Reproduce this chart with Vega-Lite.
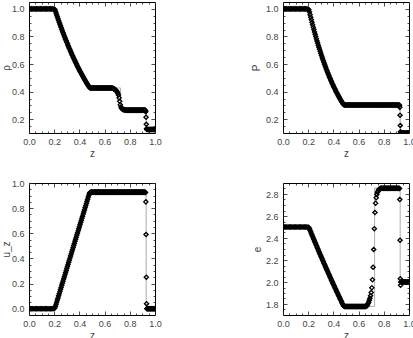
{
"$schema": "https://vega.github.io/schema/vega-lite/v6.json",
"padding": {"left": 0, "top": 1, "right": 5, "bottom": 2},
"datasets": {
"num": [
{"z":0,"rho":1,"p":1,"u":0,"e":2.5},{"z":0.01,"rho":1,"p":1,"u":0,"e":2.5},{"z":0.02,"rho":1,"p":1,"u":0,"e":2.5},{"z":0.03,"rho":1,"p":1,"u":0,"e":2.5},{"z":0.04,"rho":1,"p":1,"u":0,"e":2.5},{"z":0.05,"rho":1,"p":1,"u":0,"e":2.5},{"z":0.06,"rho":1,"p":1,"u":0,"e":2.5},{"z":0.07,"rho":1,"p":1,"u":0,"e":2.5},{"z":0.08,"rho":1,"p":1,"u":0,"e":2.5},{"z":0.09,"rho":1,"p":1,"u":0,"e":2.5},
{"z":0.1,"rho":1,"p":1,"u":0,"e":2.5},{"z":0.11,"rho":1,"p":1,"u":0,"e":2.5},{"z":0.12,"rho":1,"p":1,"u":0,"e":2.5},{"z":0.13,"rho":1,"p":1,"u":0,"e":2.5},{"z":0.14,"rho":1,"p":1,"u":0,"e":2.5},{"z":0.15,"rho":1,"p":1,"u":0,"e":2.5},{"z":0.16,"rho":1,"p":1,"u":0,"e":2.5},{"z":0.17,"rho":1,"p":1,"u":0,"e":2.5},{"z":0.18,"rho":1,"p":1,"u":0,"e":2.5},{"z":0.19,"rho":1,"p":1,"u":0,"e":2.5},
{"z":0.2,"rho":0.998,"p":0.997,"u":0.003,"e":2.498},
{"z":0.205,"rho":0.995,"p":0.993,"u":0.006,"e":2.495},
{"z":0.21,"rho":0.9837,"p":0.9773,"u":0.0193,"e":2.4837},
{"z":0.215,"rho":0.97,"p":0.9583,"u":0.036,"e":2.4697},
{"z":0.22,"rho":0.9563,"p":0.9393,"u":0.0526,"e":2.4557},
{"z":0.225,"rho":0.9428,"p":0.9209,"u":0.0693,"e":2.4417},
{"z":0.23,"rho":0.9294,"p":0.9025,"u":0.086,"e":2.4278},
{"z":0.235,"rho":0.9162,"p":0.8848,"u":0.1026,"e":2.414},
{"z":0.24,"rho":0.9031,"p":0.867,"u":0.1193,"e":2.4001},
{"z":0.245,"rho":0.8903,"p":0.8499,"u":0.136,"e":2.3864},
{"z":0.25,"rho":0.8774,"p":0.8327,"u":0.1526,"e":2.3726},
{"z":0.255,"rho":0.8649,"p":0.8162,"u":0.1693,"e":2.3589},
{"z":0.26,"rho":0.8524,"p":0.7996,"u":0.186,"e":2.3453},
{"z":0.265,"rho":0.8401,"p":0.7836,"u":0.2026,"e":2.3316},
{"z":0.27,"rho":0.8279,"p":0.7676,"u":0.2193,"e":2.318},
{"z":0.275,"rho":0.8159,"p":0.7522,"u":0.236,"e":2.3045},
{"z":0.28,"rho":0.8039,"p":0.7367,"u":0.2526,"e":2.291},
{"z":0.285,"rho":0.7922,"p":0.7218,"u":0.2693,"e":2.2776},
{"z":0.29,"rho":0.7805,"p":0.7069,"u":0.286,"e":2.2641},
{"z":0.295,"rho":0.7691,"p":0.6925,"u":0.3026,"e":2.2507},
{"z":0.3,"rho":0.7577,"p":0.6781,"u":0.3193,"e":2.2374},
{"z":0.305,"rho":0.7466,"p":0.6642,"u":0.336,"e":2.2241},
{"z":0.31,"rho":0.7354,"p":0.6503,"u":0.3526,"e":2.2108},
{"z":0.315,"rho":0.7245,"p":0.6369,"u":0.3693,"e":2.1976},
{"z":0.32,"rho":0.7136,"p":0.6235,"u":0.386,"e":2.1844},
{"z":0.325,"rho":0.703,"p":0.6106,"u":0.4026,"e":2.1713},
{"z":0.33,"rho":0.6924,"p":0.5977,"u":0.4193,"e":2.1581},
{"z":0.335,"rho":0.682,"p":0.5853,"u":0.436,"e":2.1451},
{"z":0.34,"rho":0.6716,"p":0.5728,"u":0.4526,"e":2.132},
{"z":0.345,"rho":0.6615,"p":0.5608,"u":0.4693,"e":2.1191},
{"z":0.35,"rho":0.6514,"p":0.5488,"u":0.486,"e":2.1061},
{"z":0.355,"rho":0.6415,"p":0.5372,"u":0.5026,"e":2.0932},
{"z":0.36,"rho":0.6317,"p":0.5256,"u":0.5193,"e":2.0803},
{"z":0.365,"rho":0.622,"p":0.5145,"u":0.536,"e":2.0675},
{"z":0.37,"rho":0.6124,"p":0.5033,"u":0.5526,"e":2.0547},
{"z":0.375,"rho":0.603,"p":0.4926,"u":0.5693,"e":2.042},
{"z":0.38,"rho":0.5936,"p":0.4818,"u":0.586,"e":2.0292},
{"z":0.385,"rho":0.5844,"p":0.4715,"u":0.6026,"e":2.0166},
{"z":0.39,"rho":0.5753,"p":0.4611,"u":0.6193,"e":2.0039},
{"z":0.395,"rho":0.5663,"p":0.4511,"u":0.636,"e":1.9914},
{"z":0.4,"rho":0.5574,"p":0.4412,"u":0.6526,"e":1.9788},
{"z":0.405,"rho":0.5487,"p":0.4316,"u":0.6693,"e":1.9663},
{"z":0.41,"rho":0.54,"p":0.422,"u":0.686,"e":1.9538},
{"z":0.415,"rho":0.5315,"p":0.4128,"u":0.7026,"e":1.9414},
{"z":0.42,"rho":0.523,"p":0.4035,"u":0.7193,"e":1.929},
{"z":0.425,"rho":0.5147,"p":0.3946,"u":0.736,"e":1.9167},
{"z":0.43,"rho":0.5064,"p":0.3857,"u":0.7526,"e":1.9043},
{"z":0.435,"rho":0.4983,"p":0.3772,"u":0.7693,"e":1.8921},
{"z":0.44,"rho":0.4903,"p":0.3686,"u":0.786,"e":1.8798},
{"z":0.445,"rho":0.4824,"p":0.3604,"u":0.8026,"e":1.8676},
{"z":0.45,"rho":0.4746,"p":0.3522,"u":0.8193,"e":1.8555},
{"z":0.455,"rho":0.4669,"p":0.3443,"u":0.836,"e":1.8434},
{"z":0.46,"rho":0.4592,"p":0.3364,"u":0.8526,"e":1.8313},
{"z":0.465,"rho":0.4518,"p":0.3288,"u":0.8693,"e":1.8193},
{"z":0.47,"rho":0.4443,"p":0.3212,"u":0.886,"e":1.8072},
{"z":0.475,"rho":0.4371,"p":0.3139,"u":0.9026,"e":1.7953},
{"z":0.48,"rho":0.43,"p":0.3068,"u":0.918,"e":1.7838},
{"z":0.485,"rho":0.4274,"p":0.3043,"u":0.9248,"e":1.78},
{"z":0.49,"rho":0.4266,"p":0.3035,"u":0.9266,"e":1.7785},
{"z":0.495,"rho":0.4264,"p":0.3032,"u":0.9272,"e":1.778},
{"z":0.5,"rho":0.4263,"p":0.3031,"u":0.9274,"e":1.778},{"z":0.505,"rho":0.4263,"p":0.3031,"u":0.9274,"e":1.778},{"z":0.51,"rho":0.4263,"p":0.3031,"u":0.9274,"e":1.778},{"z":0.515,"rho":0.4263,"p":0.3031,"u":0.9274,"e":1.778},{"z":0.52,"rho":0.4263,"p":0.3031,"u":0.9274,"e":1.778},{"z":0.525,"rho":0.4263,"p":0.3031,"u":0.9274,"e":1.778},{"z":0.53,"rho":0.4263,"p":0.3031,"u":0.9274,"e":1.778},{"z":0.535,"rho":0.4263,"p":0.3031,"u":0.9274,"e":1.778},{"z":0.54,"rho":0.4263,"p":0.3031,"u":0.9274,"e":1.778},{"z":0.545,"rho":0.4263,"p":0.3031,"u":0.9274,"e":1.778},{"z":0.55,"rho":0.4263,"p":0.3031,"u":0.9274,"e":1.778},{"z":0.555,"rho":0.4263,"p":0.3031,"u":0.9274,"e":1.778},{"z":0.56,"rho":0.4263,"p":0.3031,"u":0.9274,"e":1.778},{"z":0.565,"rho":0.4263,"p":0.3031,"u":0.9274,"e":1.778},{"z":0.57,"rho":0.4263,"p":0.3031,"u":0.9274,"e":1.778},{"z":0.575,"rho":0.4263,"p":0.3031,"u":0.9274,"e":1.778},
{"z":0.58,"rho":0.4263,"p":0.3031,"u":0.9274,"e":1.778},{"z":0.585,"rho":0.4263,"p":0.3031,"u":0.9274,"e":1.778},{"z":0.59,"rho":0.4263,"p":0.3031,"u":0.9274,"e":1.778},{"z":0.595,"rho":0.4263,"p":0.3031,"u":0.9274,"e":1.778},{"z":0.6,"rho":0.4263,"p":0.3031,"u":0.9274,"e":1.778},{"z":0.605,"rho":0.4263,"p":0.3031,"u":0.9274,"e":1.778},{"z":0.61,"rho":0.4263,"p":0.3031,"u":0.9274,"e":1.778},{"z":0.615,"rho":0.4263,"p":0.3031,"u":0.9274,"e":1.778},{"z":0.62,"rho":0.4263,"p":0.3031,"u":0.9274,"e":1.778},{"z":0.625,"rho":0.4263,"p":0.3031,"u":0.9274,"e":1.778},{"z":0.63,"rho":0.4263,"p":0.3031,"u":0.9274,"e":1.778},{"z":0.635,"rho":0.4263,"p":0.3031,"u":0.9274,"e":1.778},{"z":0.64,"rho":0.4263,"p":0.3031,"u":0.9274,"e":1.778},{"z":0.645,"rho":0.4263,"p":0.3031,"u":0.9274,"e":1.778},{"z":0.65,"rho":0.4263,"p":0.3031,"u":0.9274,"e":1.778},{"z":0.655,"rho":0.4262,"p":0.3031,"u":0.9274,"e":1.7783},
{"z":0.66,"rho":0.426,"p":0.3031,"u":0.9274,"e":1.7788},
{"z":0.665,"rho":0.425,"p":0.3031,"u":0.9274,"e":1.7829},
{"z":0.67,"rho":0.423,"p":0.3031,"u":0.9274,"e":1.7914},
{"z":0.675,"rho":0.42,"p":0.3031,"u":0.9274,"e":1.8042},
{"z":0.68,"rho":0.417,"p":0.3031,"u":0.9274,"e":1.8171},
{"z":0.685,"rho":0.413,"p":0.3031,"u":0.9274,"e":1.8347},
{"z":0.69,"rho":0.409,"p":0.3031,"u":0.9274,"e":1.8527},
{"z":0.695,"rho":0.404,"p":0.3031,"u":0.9274,"e":1.8756},
{"z":0.7,"rho":0.398,"p":0.3031,"u":0.9274,"e":1.9039},
{"z":0.705,"rho":0.389,"p":0.3031,"u":0.9274,"e":1.9479},
{"z":0.71,"rho":0.375,"p":0.3031,"u":0.9274,"e":2.0207},
{"z":0.715,"rho":0.355,"p":0.3031,"u":0.9274,"e":2.1345},
{"z":0.72,"rho":0.33,"p":0.3031,"u":0.9274,"e":2.2962},
{"z":0.725,"rho":0.305,"p":0.3031,"u":0.9274,"e":2.4844},
{"z":0.73,"rho":0.288,"p":0.3031,"u":0.9274,"e":2.6311},
{"z":0.735,"rho":0.279,"p":0.3031,"u":0.9274,"e":2.7159},
{"z":0.74,"rho":0.274,"p":0.3031,"u":0.9274,"e":2.7655},
{"z":0.745,"rho":0.271,"p":0.3031,"u":0.9274,"e":2.7961},
{"z":0.75,"rho":0.269,"p":0.3031,"u":0.9274,"e":2.8169},
{"z":0.755,"rho":0.268,"p":0.3031,"u":0.9274,"e":2.8274},
{"z":0.76,"rho":0.267,"p":0.3031,"u":0.9274,"e":2.838},
{"z":0.765,"rho":0.2663,"p":0.3031,"u":0.9274,"e":2.8455},
{"z":0.77,"rho":0.266,"p":0.3031,"u":0.9274,"e":2.8487},
{"z":0.775,"rho":0.2658,"p":0.3031,"u":0.9274,"e":2.851},
{"z":0.78,"rho":0.2656,"p":0.3031,"u":0.9274,"e":2.853},{"z":0.785,"rho":0.2656,"p":0.3031,"u":0.9274,"e":2.853},{"z":0.79,"rho":0.2656,"p":0.3031,"u":0.9274,"e":2.853},{"z":0.795,"rho":0.2656,"p":0.3031,"u":0.9274,"e":2.853},{"z":0.8,"rho":0.2656,"p":0.3031,"u":0.9274,"e":2.853},{"z":0.805,"rho":0.2656,"p":0.3031,"u":0.9274,"e":2.853},{"z":0.81,"rho":0.2656,"p":0.3031,"u":0.9274,"e":2.853},{"z":0.815,"rho":0.2656,"p":0.3031,"u":0.9274,"e":2.853},{"z":0.82,"rho":0.2656,"p":0.3031,"u":0.9274,"e":2.853},{"z":0.825,"rho":0.2656,"p":0.3031,"u":0.9274,"e":2.853},{"z":0.83,"rho":0.2656,"p":0.3031,"u":0.9274,"e":2.853},{"z":0.835,"rho":0.2656,"p":0.3031,"u":0.9274,"e":2.853},{"z":0.84,"rho":0.2656,"p":0.3031,"u":0.9274,"e":2.853},{"z":0.845,"rho":0.2656,"p":0.3031,"u":0.9274,"e":2.853},{"z":0.85,"rho":0.2656,"p":0.3031,"u":0.9274,"e":2.853},
{"z":0.855,"rho":0.2656,"p":0.3031,"u":0.9274,"e":2.853},{"z":0.86,"rho":0.2656,"p":0.3031,"u":0.9274,"e":2.853},{"z":0.865,"rho":0.2656,"p":0.3031,"u":0.9274,"e":2.853},{"z":0.87,"rho":0.2656,"p":0.3031,"u":0.9274,"e":2.853},{"z":0.875,"rho":0.2656,"p":0.3031,"u":0.9274,"e":2.853},{"z":0.88,"rho":0.2656,"p":0.3031,"u":0.9274,"e":2.853},{"z":0.885,"rho":0.2656,"p":0.3031,"u":0.9274,"e":2.853},{"z":0.89,"rho":0.2656,"p":0.3031,"u":0.9274,"e":2.853},{"z":0.895,"rho":0.2656,"p":0.3031,"u":0.9274,"e":2.853},{"z":0.9,"rho":0.2656,"p":0.3031,"u":0.9274,"e":2.853},{"z":0.905,"rho":0.2656,"p":0.3031,"u":0.9274,"e":2.853},{"z":0.91,"rho":0.2656,"p":0.3031,"u":0.9274,"e":2.853},{"z":0.915,"rho":0.2656,"p":0.3031,"u":0.9274,"e":2.853},{"z":0.92,"rho":0.2656,"p":0.3031,"u":0.9274,"e":2.853},
{"z":0.925,"rho":0.264,"p":0.301,"u":0.925,"e":2.85},
{"z":0.927,"rho":0.254,"p":0.286,"u":0.85,"e":2.75},
{"z":0.929,"rho":0.2144,"p":0.229,"u":0.59,"e":2.38},
{"z":0.931,"rho":0.163,"p":0.155,"u":0.25,"e":2.03},
{"z":0.933,"rho":0.131,"p":0.109,"u":0.04,"e":1.97},
{"z":0.935,"rho":0.125,"p":0.1,"u":0,"e":2.0},
{"z":0.94,"rho":0.125,"p":0.1,"u":0,"e":2.0},{"z":0.945,"rho":0.125,"p":0.1,"u":0,"e":2.0},{"z":0.95,"rho":0.125,"p":0.1,"u":0,"e":2.0},{"z":0.955,"rho":0.125,"p":0.1,"u":0,"e":2.0},{"z":0.96,"rho":0.125,"p":0.1,"u":0,"e":2.0},{"z":0.965,"rho":0.125,"p":0.1,"u":0,"e":2.0},{"z":0.97,"rho":0.125,"p":0.1,"u":0,"e":2.0},{"z":0.975,"rho":0.125,"p":0.1,"u":0,"e":2.0},{"z":0.98,"rho":0.125,"p":0.1,"u":0,"e":2.0},{"z":0.985,"rho":0.125,"p":0.1,"u":0,"e":2.0},{"z":0.99,"rho":0.125,"p":0.1,"u":0,"e":2.0},{"z":0.995,"rho":0.125,"p":0.1,"u":0,"e":2.0},{"z":1.0,"rho":0.125,"p":0.1,"u":0,"e":2.0}
],
"exact": [
{"i":0,"z":0,"rho":1,"p":1,"u":0,"e":2.5},
{"i":1,"z":0.2042,"rho":1,"p":1,"u":0,"e":2.5},
{"i":2,"z":0.25,"rho":0.8774,"p":0.8327,"u":0.1526,"e":2.3726},
{"i":3,"z":0.3,"rho":0.7577,"p":0.6781,"u":0.3193,"e":2.2374},
{"i":4,"z":0.35,"rho":0.6514,"p":0.5488,"u":0.486,"e":2.1061},
{"i":5,"z":0.4,"rho":0.5574,"p":0.4412,"u":0.6526,"e":1.9788},
{"i":6,"z":0.45,"rho":0.4746,"p":0.3522,"u":0.8193,"e":1.8555},
{"i":7,"z":0.4824,"rho":0.4263,"p":0.3031,"u":0.9274,"e":1.778},
{"i":8,"z":0.727,"rho":0.4263,"p":0.3031,"u":0.9274,"e":1.778},
{"i":9,"z":0.727,"rho":0.2656,"p":0.3031,"u":0.9274,"e":2.853},
{"i":10,"z":0.93,"rho":0.2656,"p":0.3031,"u":0.9274,"e":2.853},
{"i":11,"z":0.93,"rho":0.125,"p":0.1,"u":0,"e":2.0},
{"i":12,"z":1.0,"rho":0.125,"p":0.1,"u":0,"e":2.0}
]
},
"columns": 2,
"bounds": "flush",
"spacing": {"row": 50, "column": 128},
"concat": [
{
"width": 126, "height": 131,
"layer": [
{"data": {"name": "exact"}, "mark": {"type": "line", "color": "#8a8a8a", "strokeWidth": 0.7, "clip": true},
 "encoding": {
  "x": {"field": "z", "type": "quantitative", "scale": {"domain": [0, 1], "nice": false, "zero": false},
   "axis": {"orient": "bottom", "title": "z", "values": [0,0.05,0.1,0.15,0.2,0.25,0.3,0.35,0.4,0.45,0.5,0.55,0.6,0.65,0.7,0.75,0.8,0.85,0.9,0.95,1], "labelExpr": "abs(datum.value*5-round(datum.value*5))<0.001 ? format(datum.value,'.1f') : ''", "tickSize": {"condition": {"test": "abs(datum.value*5-round(datum.value*5))<0.001", "value": -4}, "value": -2}, "labelPadding": 8, "titlePadding": 0}},
  "y": {"field": "rho", "type": "quantitative", "scale": {"domain": [0.1, 1.05], "nice": false, "zero": false},
   "axis": {"orient": "left", "title": "ρ", "values": [0.15,0.2,0.25,0.3,0.35,0.4,0.45,0.5,0.55,0.6,0.65,0.7,0.75,0.8,0.85,0.9,0.95,1], "labelExpr": "abs(datum.value*5-round(datum.value*5))<0.001 ? format(datum.value,'.1f') : ''", "tickSize": {"condition": {"test": "abs(datum.value*5-round(datum.value*5))<0.001", "value": -4}, "value": -2}, "labelPadding": 9, "titlePadding": 0}},
  "order": {"field": "i", "type": "quantitative"}}},
{"data": {"name": "num"}, "mark": {"type": "point", "shape": "diamond", "filled": false, "color": "#000", "size": 18, "strokeWidth": 1.3, "opacity": 1, "clip": true},
 "encoding": {
  "x": {"field": "z", "type": "quantitative", "axis": {"orient": "top", "title": null, "labels": false, "values": [0,0.05,0.1,0.15,0.2,0.25,0.3,0.35,0.4,0.45,0.5,0.55,0.6,0.65,0.7,0.75,0.8,0.85,0.9,0.95,1], "tickSize": {"condition": {"test": "abs(datum.value*5-round(datum.value*5))<0.001", "value": -4}, "value": -2}}},
  "y": {"field": "rho", "type": "quantitative", "axis": {"orient": "right", "title": null, "labels": false, "values": [0.15,0.2,0.25,0.3,0.35,0.4,0.45,0.5,0.55,0.6,0.65,0.7,0.75,0.8,0.85,0.9,0.95,1], "tickSize": {"condition": {"test": "abs(datum.value*5-round(datum.value*5))<0.001", "value": -4}, "value": -2}}}}}
],
"resolve": {"axis": {"x": "independent", "y": "independent"}}
},
{
"width": 126, "height": 131,
"layer": [
{"data": {"name": "exact"}, "mark": {"type": "line", "color": "#8a8a8a", "strokeWidth": 0.7, "clip": true},
 "encoding": {
  "x": {"field": "z", "type": "quantitative", "scale": {"domain": [0, 1], "nice": false, "zero": false},
   "axis": {"orient": "bottom", "title": "z", "values": [0,0.05,0.1,0.15,0.2,0.25,0.3,0.35,0.4,0.45,0.5,0.55,0.6,0.65,0.7,0.75,0.8,0.85,0.9,0.95,1], "labelExpr": "abs(datum.value*5-round(datum.value*5))<0.001 ? format(datum.value,'.1f') : ''", "tickSize": {"condition": {"test": "abs(datum.value*5-round(datum.value*5))<0.001", "value": -4}, "value": -2}, "labelPadding": 8, "titlePadding": 0}},
  "y": {"field": "p", "type": "quantitative", "scale": {"domain": [0.1, 1.05], "nice": false, "zero": false},
   "axis": {"orient": "left", "title": "P", "values": [0.15,0.2,0.25,0.3,0.35,0.4,0.45,0.5,0.55,0.6,0.65,0.7,0.75,0.8,0.85,0.9,0.95,1], "labelExpr": "abs(datum.value*5-round(datum.value*5))<0.001 ? format(datum.value,'.1f') : ''", "tickSize": {"condition": {"test": "abs(datum.value*5-round(datum.value*5))<0.001", "value": -4}, "value": -2}, "labelPadding": 9, "titlePadding": 4}},
  "order": {"field": "i", "type": "quantitative"}}},
{"data": {"name": "num"}, "mark": {"type": "point", "shape": "diamond", "filled": false, "color": "#000", "size": 18, "strokeWidth": 1.3, "opacity": 1, "clip": true},
 "encoding": {
  "x": {"field": "z", "type": "quantitative", "axis": {"orient": "top", "title": null, "labels": false, "values": [0,0.05,0.1,0.15,0.2,0.25,0.3,0.35,0.4,0.45,0.5,0.55,0.6,0.65,0.7,0.75,0.8,0.85,0.9,0.95,1], "tickSize": {"condition": {"test": "abs(datum.value*5-round(datum.value*5))<0.001", "value": -4}, "value": -2}}},
  "y": {"field": "p", "type": "quantitative", "axis": {"orient": "right", "title": null, "labels": false, "values": [0.15,0.2,0.25,0.3,0.35,0.4,0.45,0.5,0.55,0.6,0.65,0.7,0.75,0.8,0.85,0.9,0.95,1], "tickSize": {"condition": {"test": "abs(datum.value*5-round(datum.value*5))<0.001", "value": -4}, "value": -2}}}}}
],
"resolve": {"axis": {"x": "independent", "y": "independent"}}
},
{
"width": 126, "height": 132,
"layer": [
{"data": {"name": "exact"}, "mark": {"type": "line", "color": "#8a8a8a", "strokeWidth": 0.7, "clip": true},
 "encoding": {
  "x": {"field": "z", "type": "quantitative", "scale": {"domain": [0, 1], "nice": false, "zero": false},
   "axis": {"orient": "bottom", "title": "z", "values": [0,0.05,0.1,0.15,0.2,0.25,0.3,0.35,0.4,0.45,0.5,0.55,0.6,0.65,0.7,0.75,0.8,0.85,0.9,0.95,1], "labelExpr": "abs(datum.value*5-round(datum.value*5))<0.001 ? format(datum.value,'.1f') : ''", "tickSize": {"condition": {"test": "abs(datum.value*5-round(datum.value*5))<0.001", "value": -4}, "value": -2}, "labelPadding": 8, "titlePadding": 0}},
  "y": {"field": "u", "type": "quantitative", "scale": {"domain": [-0.05, 1.0], "nice": false, "zero": false},
   "axis": {"orient": "left", "title": "u_z", "values": [0,0.05,0.1,0.15,0.2,0.25,0.3,0.35,0.4,0.45,0.5,0.55,0.6,0.65,0.7,0.75,0.8,0.85,0.9,0.95,1], "labelExpr": "abs(datum.value*5-round(datum.value*5))<0.001 ? format(datum.value,'.1f') : ''", "tickSize": {"condition": {"test": "abs(datum.value*5-round(datum.value*5))<0.001", "value": -4}, "value": -2}, "labelPadding": 9, "titlePadding": 0}},
  "order": {"field": "i", "type": "quantitative"}}},
{"data": {"name": "num"}, "mark": {"type": "point", "shape": "diamond", "filled": false, "color": "#000", "size": 18, "strokeWidth": 1.3, "opacity": 1, "clip": true},
 "encoding": {
  "x": {"field": "z", "type": "quantitative", "axis": {"orient": "top", "title": null, "labels": false, "values": [0,0.05,0.1,0.15,0.2,0.25,0.3,0.35,0.4,0.45,0.5,0.55,0.6,0.65,0.7,0.75,0.8,0.85,0.9,0.95,1], "tickSize": {"condition": {"test": "abs(datum.value*5-round(datum.value*5))<0.001", "value": -4}, "value": -2}}},
  "y": {"field": "u", "type": "quantitative", "axis": {"orient": "right", "title": null, "labels": false, "values": [0,0.05,0.1,0.15,0.2,0.25,0.3,0.35,0.4,0.45,0.5,0.55,0.6,0.65,0.7,0.75,0.8,0.85,0.9,0.95,1], "tickSize": {"condition": {"test": "abs(datum.value*5-round(datum.value*5))<0.001", "value": -4}, "value": -2}}}}}
],
"resolve": {"axis": {"x": "independent", "y": "independent"}}
},
{
"width": 126, "height": 132,
"layer": [
{"data": {"name": "exact"}, "mark": {"type": "line", "color": "#8a8a8a", "strokeWidth": 0.7, "clip": true},
 "encoding": {
  "x": {"field": "z", "type": "quantitative", "scale": {"domain": [0, 1], "nice": false, "zero": false},
   "axis": {"orient": "bottom", "title": "z", "values": [0,0.05,0.1,0.15,0.2,0.25,0.3,0.35,0.4,0.45,0.5,0.55,0.6,0.65,0.7,0.75,0.8,0.85,0.9,0.95,1], "labelExpr": "abs(datum.value*5-round(datum.value*5))<0.001 ? format(datum.value,'.1f') : ''", "tickSize": {"condition": {"test": "abs(datum.value*5-round(datum.value*5))<0.001", "value": -4}, "value": -2}, "labelPadding": 8, "titlePadding": 0}},
  "y": {"field": "e", "type": "quantitative", "scale": {"domain": [1.7, 2.9], "nice": false, "zero": false},
   "axis": {"orient": "left", "title": "e", "values": [1.75,1.8,1.85,1.9,1.95,2,2.05,2.1,2.15,2.2,2.25,2.3,2.35,2.4,2.45,2.5,2.55,2.6,2.65,2.7,2.75,2.8,2.85], "labelExpr": "abs(datum.value*5-round(datum.value*5))<0.001 ? format(datum.value,'.1f') : ''", "tickSize": {"condition": {"test": "abs(datum.value*5-round(datum.value*5))<0.001", "value": -4}, "value": -2}, "labelPadding": 9, "titlePadding": 3}},
  "order": {"field": "i", "type": "quantitative"}}},
{"data": {"name": "num"}, "mark": {"type": "point", "shape": "diamond", "filled": false, "color": "#000", "size": 18, "strokeWidth": 1.3, "opacity": 1, "clip": true},
 "encoding": {
  "x": {"field": "z", "type": "quantitative", "axis": {"orient": "top", "title": null, "labels": false, "values": [0,0.05,0.1,0.15,0.2,0.25,0.3,0.35,0.4,0.45,0.5,0.55,0.6,0.65,0.7,0.75,0.8,0.85,0.9,0.95,1], "tickSize": {"condition": {"test": "abs(datum.value*5-round(datum.value*5))<0.001", "value": -4}, "value": -2}}},
  "y": {"field": "e", "type": "quantitative", "axis": {"orient": "right", "title": null, "labels": false, "values": [1.75,1.8,1.85,1.9,1.95,2,2.05,2.1,2.15,2.2,2.25,2.3,2.35,2.4,2.45,2.5,2.55,2.6,2.65,2.7,2.75,2.8,2.85], "tickSize": {"condition": {"test": "abs(datum.value*5-round(datum.value*5))<0.001", "value": -4}, "value": -2}}}}}
],
"resolve": {"axis": {"x": "independent", "y": "independent"}}
}
],
"config": {
 "view": {"stroke": "#000", "strokeWidth": 1},
 "axis": {"domain": false, "grid": false, "labelFont": "Liberation Sans", "labelFontSize": 9, "labelColor": "#444", "labelFlush": false, "labelOverlap": false, "titleFont": "Liberation Sans", "titleFontSize": 10, "titleFontWeight": "normal", "titleColor": "#444", "tickColor": "#222", "tickWidth": 0.8}
}
}
